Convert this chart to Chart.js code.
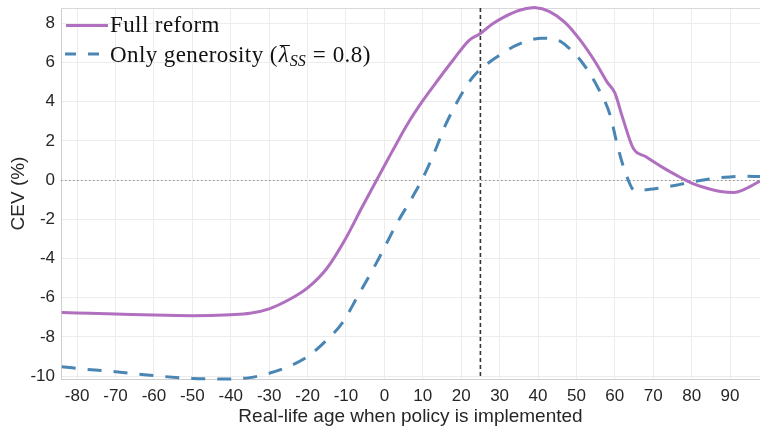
<!DOCTYPE html>
<html>
<head>
<meta charset="utf-8">
<script src="https://cdn.jsdelivr.net/npm/chart.js@4.4.1/dist/chart.umd.min.js"></script>
<style>
  html, body { margin: 0; padding: 0; background: #fff; }
  #wrap { width: 760px; height: 426px; }
</style>
</head>
<body>
<div id="wrap"><canvas id="cev" width="760" height="426"></canvas></div>
<script>
// real-life age when the policy is implemented
const fullAges = [-84, -80, -70, -60, -50, -40, -35, -30, -25, -20, -15, -10, -6, -2, 2, 6, 10, 14, 18, 22, 25, 28, 31, 35, 39, 43, 47, 51, 55, 58, 60, 62, 64.8, 68, 72, 76, 80, 84, 88, 91, 94, 97.8];
const fullReform = [-6.76, -6.78, -6.83, -6.89, -6.92, -6.87, -6.8, -6.57, -6.12, -5.5, -4.51, -2.95, -1.45, 0, 1.45, 2.85, 4.05, 5.12, 6.15, 7.12, 7.48, 7.95, 8.3, 8.65, 8.8, 8.6, 8.05, 7.14, 6.0, 5.0, 4.45, 3.2, 1.62, 1.2, 0.7, 0.25, -0.15, -0.42, -0.6, -0.63, -0.45, -0.05];

const genAges = [-84, -80, -70, -60, -50, -42, -35, -30, -25, -20, -15, -11, -7, -2, 0, 3, 7.5, 10, 13, 16, 20, 23, 27.5, 31, 34, 38, 41, 44, 46, 48, 51.5, 55.5, 58.8, 60.5, 62.2, 63.5, 64.5, 65.5, 68, 72, 77, 80, 86, 90, 94, 97.8];
const onlyGenerosity = [-9.52, -9.61, -9.78, -9.98, -10.12, -10.15, -10.08, -9.86, -9.52, -9.01, -8.16, -7.3, -5.95, -4.2, -3.45, -2.3, -0.8, 0.1, 1.4, 2.85, 4.35, 5.25, 6.04, 6.5, 6.85, 7.15, 7.24, 7.2, 7.06, 6.75, 6.0, 4.75, 3.3, 1.9, 0.7, 0, -0.42, -0.55, -0.5, -0.4, -0.22, -0.1, 0.09, 0.16, 0.2, 0.18];

const xTicks = [-80, -70, -60, -50, -40, -30, -20, -10, 0, 10, 20, 30, 40, 50, 60, 70, 80, 90];
const yTicks = [-10, -8, -6, -4, -2, 0, 2, 4, 6, 8];
const currentAge = 25;

const purple = '#b06fbf';
const blue = '#4a86b3';
const tickFont = { family: 'Liberation Sans, Arial, sans-serif', size: 17 };
const titleFont = { family: 'Liberation Sans, Arial, sans-serif', size: 19, lineHeight: 1 };

// zero line + vertical marker + top frame line
const refLines = {
  id: 'refLines',
  beforeDatasetsDraw(chart) {
    const { ctx, chartArea, scales } = chart;
    ctx.save();
    ctx.strokeStyle = '#d9d9d9';
    ctx.lineWidth = 1;
    ctx.beginPath();
    ctx.moveTo(chartArea.left, chartArea.top + 0.5);
    ctx.lineTo(chartArea.right, chartArea.top + 0.5);
    ctx.stroke();

    const y0 = Math.round(scales.y.getPixelForValue(0)) + 0.5;
    ctx.strokeStyle = '#8c8c8c';
    ctx.setLineDash([1.5, 2.5]);
    ctx.beginPath();
    ctx.moveTo(chartArea.left, y0);
    ctx.lineTo(chartArea.right, y0);
    ctx.stroke();

    const xv = scales.x.getPixelForValue(currentAge);
    ctx.strokeStyle = '#333';
    ctx.lineWidth = 1.6;
    ctx.setLineDash([4, 3]);
    ctx.beginPath();
    ctx.moveTo(xv, chartArea.top);
    ctx.lineTo(xv, chartArea.bottom);
    ctx.stroke();
    ctx.restore();
  }
};

// legend drawn by hand so the subscript can be set
const texLegend = {
  id: 'texLegend',
  afterDraw(chart) {
    const ctx = chart.ctx;
    const serif = '"Liberation Serif", "DejaVu Serif", serif';
    ctx.save();
    ctx.lineWidth = 3;
    ctx.strokeStyle = purple;
    ctx.beginPath();
    ctx.moveTo(66, 25.5);
    ctx.lineTo(108, 25.5);
    ctx.stroke();
    ctx.strokeStyle = blue;
    ctx.setLineDash([11, 12]);
    ctx.beginPath();
    ctx.moveTo(65, 54);
    ctx.lineTo(108, 54);
    ctx.stroke();

    ctx.fillStyle = '#111';
    ctx.textBaseline = 'alphabetic';
    ctx.letterSpacing = '0.4px';
    ctx.font = '23px ' + serif;
    ctx.fillText('Full reform', 110, 32);

    const base = 61.5;
    let x = 110;
    const part1 = 'Only generosity (';
    ctx.fillText(part1, x, base);
    x += ctx.measureText(part1).width + 1;
    ctx.letterSpacing = '0px';
    ctx.font = 'italic 23px ' + serif;
    const lw = ctx.measureText('\u03bb').width;
    ctx.fillText('\u03bb', x, base);
    ctx.textAlign = 'center';
    ctx.font = '20px ' + serif;
    ctx.fillText('\u00af', x + lw / 2 + 1, base - 1);
    ctx.textAlign = 'left';
    x += lw + 1;
    ctx.font = 'italic 16px ' + serif;
    ctx.fillText('SS', x, base + 4);
    x += ctx.measureText('SS').width + 7;
    ctx.font = '23px ' + serif;
    ctx.fillText('=', x, base);
    x += ctx.measureText('=').width + 7;
    ctx.letterSpacing = '0.4px';
    ctx.fillText('0.8)', x, base);
    ctx.restore();
  }
};

new Chart(document.getElementById('cev'), {
  type: 'line',
  data: {
    datasets: [
      {
        label: 'Full reform',
        data: fullAges.map((a, i) => ({ x: a, y: fullReform[i] })),
        borderColor: purple,
        borderWidth: 3,
        pointRadius: 0,
        cubicInterpolationMode: 'monotone',
        clip: false
      },
      {
        label: 'Only generosity',
        data: genAges.map((a, i) => ({ x: a, y: onlyGenerosity[i] })),
        borderColor: blue,
        borderWidth: 3,
        borderDash: [14, 12],
        pointRadius: 0,
        cubicInterpolationMode: 'monotone',
        clip: false
      }
    ]
  },
  options: {
    responsive: false,
    animation: false,
    layout: { padding: { top: 8, right: 0, left: 0, bottom: 0 } },
    plugins: {
      legend: { display: false },
      tooltip: { enabled: false }
    },
    scales: {
      x: {
        type: 'linear',
        min: -84.2,
        max: 97.8,
        afterBuildTicks: (s) => { s.ticks = xTicks.map(v => ({ value: v })); },
        afterFit: (s) => { s.height = 47; s.paddingLeft = 0; s.paddingRight = 0; },
        grid: { color: '#ececec', drawTicks: false },
        border: { color: '#cfcfcf' },
        ticks: { font: tickFont, color: '#262626', padding: 7, maxRotation: 0 },
        title: { display: true, text: 'Real-life age when policy is implemented', font: titleFont, color: '#262626', padding: 0 }
      },
      y: {
        min: -10.15,
        max: 8.78,
        afterBuildTicks: (s) => { s.ticks = yTicks.map(v => ({ value: v })); },
        afterFit: (s) => { s.width = 61; s.paddingTop = 0; s.paddingBottom = 0; },
        grid: { color: '#ececec', drawTicks: false },
        border: { color: '#cfcfcf' },
        ticks: { font: tickFont, color: '#262626', padding: 6 },
        title: { display: true, text: 'CEV (%)', font: titleFont, color: '#262626', padding: { top: 9, bottom: 0 } }
      }
    }
  },
  plugins: [refLines, texLegend]
});
</script>
</body>
</html>
